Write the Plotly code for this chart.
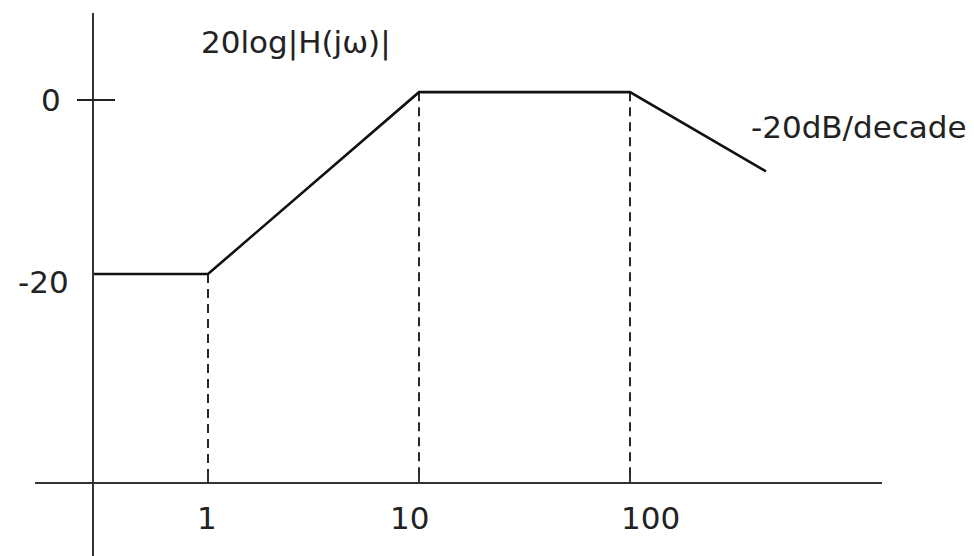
import math
import plotly.graph_objects as go

# ---- data ----
omega = [0.285, 1, 10, 100, 441]          # rad/s
mag_db = [-20, -20, 0.9, 0.9, -8.2]       # asymptotic magnitude, dB

break_omega = [1, 10, 100]                # corner frequencies with dashed drop lines
break_db = [-20, 0.9, 0.9]

x_tick_vals = [1, 10, 100]
x_tick_text = ["1", "10", "100"]
y_tick_vals = [0, -20]
y_tick_text = ["0", "-20"]

axis_db = -44.0          # level where the frequency axis crosses
axis_omega = 0.285       # frequency where the magnitude axis crosses

title_text = "20log|H(jω)|"
slope_text = "-20dB/decade"

# ---- layout geometry ----
W, H = 974, 556
x_dom = [35 / W, 882 / W]
x_rng = [-0.8199, 3.1943]                 # log10 range
y_dom = [0, 1 - 13 / H]
y_rng = [-52.41, 10.0]

x_pos = x_dom[0] + (math.log10(axis_omega) - x_rng[0]) / (x_rng[1] - x_rng[0]) * (x_dom[1] - x_dom[0])
y_pos = y_dom[0] + (axis_db - y_rng[0]) / (y_rng[1] - y_rng[0]) * (y_dom[1] - y_dom[0])

FONT = "DejaVu Sans"
FS = 31
TXT = "#222222"

fig = go.Figure()

# dashed drop lines
dx, dy = [], []
for w, d in zip(break_omega, break_db):
    dx += [w, w, None]
    dy += [d, axis_db, None]
fig.add_trace(go.Scatter(x=dx, y=dy, mode="lines",
                         line=dict(color="#111111", width=1.8, dash="9px,6px"),
                         hoverinfo="skip", showlegend=False))

# asymptotic magnitude curve
fig.add_trace(go.Scatter(x=omega, y=mag_db, mode="lines",
                         line=dict(color="#111111", width=2.6),
                         hoverinfo="skip", showlegend=False))

# crossing tick at 0 dB on the magnitude axis
fig.add_shape(type="line", xref="paper", yref="y",
              x0=77 / W, x1=115 / W, y0=y_tick_vals[0], y1=y_tick_vals[0],
              line=dict(color="#222222", width=2))

annotations = []
# x tick labels
x_shifts = [-1, -10, 20]
for v, t, s in zip(x_tick_vals, x_tick_text, x_shifts):
    annotations.append(dict(x=math.log10(v), y=axis_db, xref="x", yref="y", text=t,
                            showarrow=False, xanchor="center", yanchor="middle",
                            xshift=s, yshift=-35, font=dict(family=FONT, size=FS, color=TXT)))
# y tick labels
y_shifts = [(-30, 0), (-22, -8)]
for v, t, (sx, sy) in zip(y_tick_vals, y_tick_text, y_shifts):
    annotations.append(dict(x=math.log10(axis_omega), y=v, xref="x", yref="y", text=t,
                            showarrow=False, xanchor="right", yanchor="middle",
                            xshift=sx, yshift=sy, font=dict(family=FONT, size=FS, color=TXT)))
# axis title and slope label
annotations.append(dict(x=199 / W, y=1 - 43 / H, xref="paper", yref="paper", text=title_text,
                        showarrow=False, xanchor="left", yanchor="middle",
                        font=dict(family=FONT, size=FS, color=TXT)))
annotations.append(dict(x=749 / W, y=1 - 127 / H, xref="paper", yref="paper", text=slope_text,
                        showarrow=False, xanchor="left", yanchor="middle",
                        font=dict(family=FONT, size=FS, color=TXT)))

fig.update_layout(
    width=W, height=H, autosize=False,
    margin=dict(l=0, r=0, t=0, b=0, pad=0),
    paper_bgcolor="white", plot_bgcolor="white",
    showlegend=False,
    annotations=annotations,
    xaxis=dict(type="log", domain=x_dom, range=x_rng, anchor="free", position=y_pos,
               showline=True, linecolor="#333333", linewidth=2.2,
               showgrid=False, zeroline=False,
               tickmode="array", tickvals=x_tick_vals, ticks="inside", ticklen=8,
               tickwidth=1.5, tickcolor="#333333", showticklabels=False),
    yaxis=dict(domain=y_dom, range=y_rng, anchor="free", position=x_pos,
               showline=True, linecolor="#333333", linewidth=2.2,
               showgrid=False, zeroline=False, ticks="", showticklabels=False),
)

fig.write_html("out.html", config={"displayModeBar": False, "staticPlot": True})

# remove the browser's default page margin so the figure sits at the window origin
with open("out.html", "r", encoding="utf-8") as f:
    html = f.read()
html = html.replace("<head>", "<head><style>html,body{margin:0;padding:0;overflow:hidden;}</style>", 1)
with open("out.html", "w", encoding="utf-8") as f:
    f.write(html)
